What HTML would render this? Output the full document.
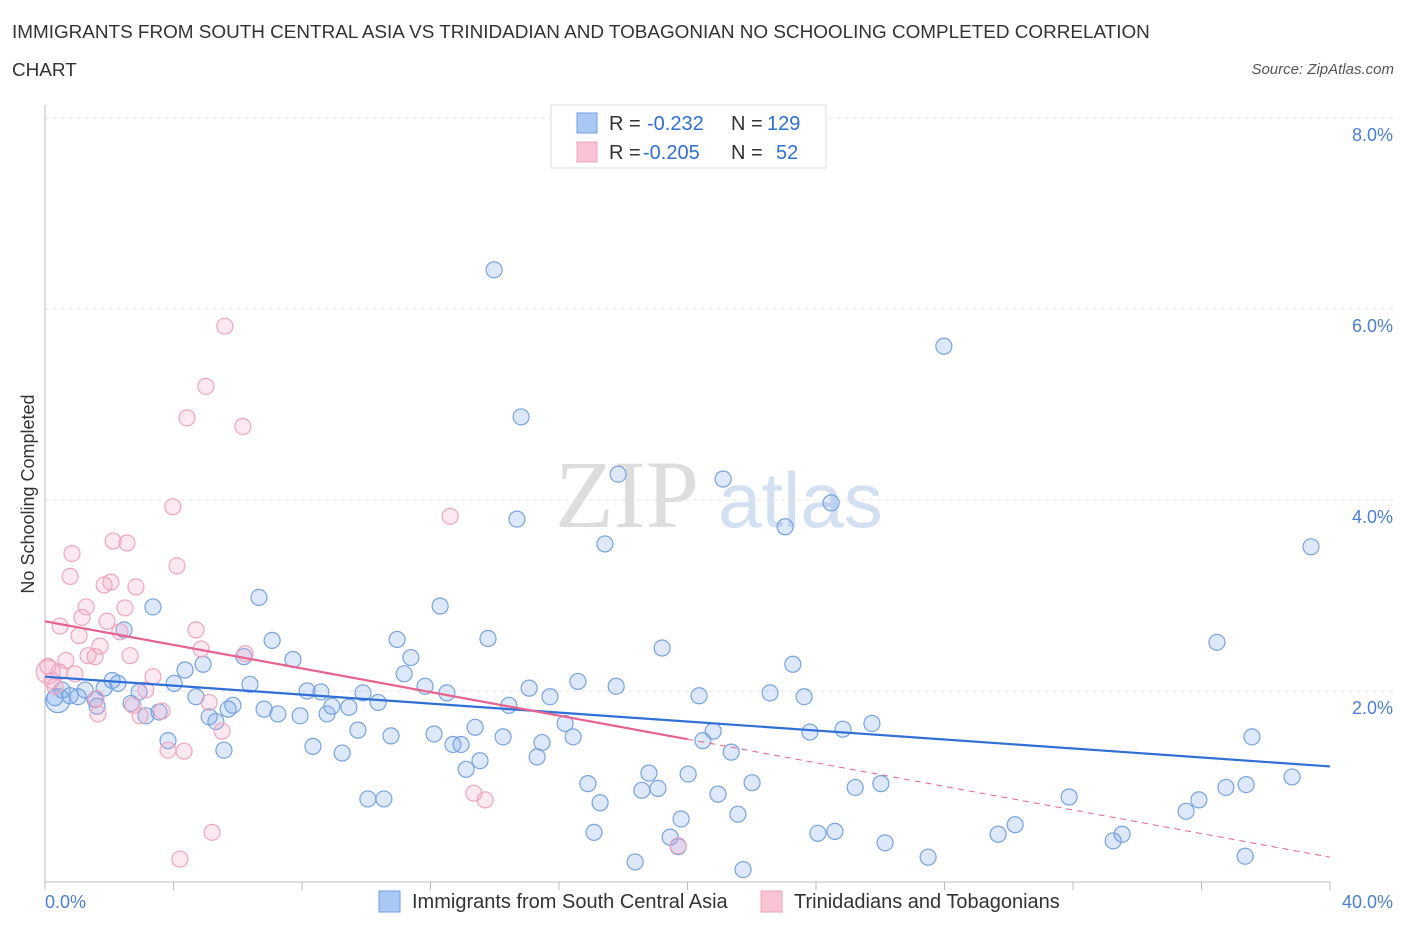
<!DOCTYPE html>
<html><head><meta charset="utf-8">
<style>
body{margin:0;background:#fff;font-family:"Liberation Sans",sans-serif;}
#wrap{position:relative;width:1406px;height:930px;overflow:hidden;}
.t{position:absolute;white-space:nowrap;}
</style></head>
<body>
<div id="wrap">
<div class="t" style="left:12px;top:14px;font-size:18.9px;color:#333;line-height:38px;">IMMIGRANTS FROM SOUTH CENTRAL ASIA VS TRINIDADIAN AND TOBAGONIAN NO SCHOOLING COMPLETED CORRELATION<br>CHART</div>
<div class="t" style="right:12px;top:61px;font-size:15px;font-style:italic;color:#555;">Source: ZipAtlas.com</div>
<svg id="svg" width="1406" height="930" style="position:absolute;left:0;top:0"></svg>
</div>
<script>
const xTicks=[0,4,8,12,16,20,24,28,32,36,40];
const yTicks=[2,4,6,8];
const yTickLabels=["2.0%","4.0%","6.0%","8.0%"];
const blueX=[13.98,27.98,14.82,17.84,21.11,24.47,14.69,23.04,17.43,39.41,6.66,3.36,12.30,2.46,7.07,10.96,13.79,36.48,19.21,6.19,7.72,23.28,4.36,4.92,11.18,11.39,16.59,4.02,17.78,15.07,11.83,2.09,2.27,6.38,20.36,22.57,23.63,15.72,8.16,8.59,12.51,9.90,4.70,1.84,1.25,0.53,0.78,0.31,1.03,1.56,2.93,2.68,1.62,10.37,5.85,8.93,9.46,14.44,6.82,3.14,3.55,5.70,5.11,5.32,7.25,7.94,8.78,16.19,20.80,13.39,9.74,10.77,12.11,14.26,16.44,23.81,24.84,25.74,37.57,20.48,3.83,5.57,8.34,9.25,12.70,12.95,15.47,15.32,21.36,13.54,13.11,18.80,20.02,16.90,18.58,19.08,22.01,20.95,25.22,26.02,36.76,37.39,38.82,31.88,35.92,10.05,10.55,17.28,35.52,21.57,19.80,30.20,17.09,24.06,24.59,33.53,19.46,33.25,26.15,29.67,19.71,27.49,18.37,37.36,21.73,0.4];
const blueY=[6.41,5.61,4.87,4.27,4.22,3.97,3.80,3.72,3.54,3.51,2.98,2.88,2.89,2.64,2.53,2.54,2.55,2.51,2.45,2.36,2.33,2.28,2.22,2.28,2.18,2.35,2.10,2.08,2.05,2.03,2.05,2.11,2.08,2.07,1.95,1.98,1.94,1.94,2.00,1.99,1.98,1.98,1.94,2.03,2.01,2.01,1.95,1.93,1.94,1.91,1.99,1.87,1.84,1.88,1.85,1.84,1.83,1.85,1.81,1.74,1.78,1.81,1.73,1.68,1.76,1.74,1.76,1.66,1.58,1.62,1.59,1.53,1.55,1.52,1.52,1.57,1.60,1.66,1.52,1.48,1.48,1.38,1.42,1.35,1.44,1.44,1.46,1.31,1.36,1.27,1.18,1.14,1.13,1.03,0.96,0.98,1.04,0.92,0.99,1.03,0.99,1.02,1.10,0.89,0.86,0.87,0.87,0.83,0.74,0.71,0.66,0.60,0.52,0.51,0.53,0.50,0.47,0.43,0.41,0.50,0.37,0.26,0.21,0.27,0.13,1.9];
const pinkX=[5.60,5.01,4.42,6.16,3.98,12.61,0.84,2.12,2.55,0.78,4.11,2.05,1.84,2.83,1.28,2.49,1.15,0.47,1.93,1.06,2.33,4.70,1.71,1.34,1.56,2.65,4.86,6.23,0.65,0.09,0.44,0.93,3.36,0.31,3.14,1.59,2.74,3.64,1.65,2.96,5.11,5.51,3.83,4.33,13.35,13.70,5.20,4.20,19.71,0.22,0.1];
const pinkY=[5.82,5.19,4.86,4.77,3.93,3.83,3.44,3.57,3.55,3.20,3.31,3.14,3.11,3.09,2.88,2.87,2.77,2.68,2.73,2.58,2.62,2.64,2.47,2.37,2.36,2.37,2.44,2.39,2.32,2.26,2.20,2.18,2.15,2.05,2.01,1.92,1.85,1.79,1.76,1.74,1.88,1.58,1.38,1.37,0.93,0.86,0.52,0.24,0.38,2.11,2.2];
const blueTrend=[2.15,1.21];
const pinkTrend=[2.73,0.26];
const x0=45,x1=1330,yb=882,yt=118;
const X=v=>x0+(v/40)*(x1-x0);
const Y=v=>yb-(v/8)*(yb-yt);
const svg=document.getElementById('svg');
const NS='http://www.w3.org/2000/svg';
function mk(tag,attrs){const e=document.createElementNS(NS,tag);for(const k in attrs)e.setAttribute(k,attrs[k]);svg.appendChild(e);return e;}
let wm=mk('text',{x:555,y:527,'font-size':96,'font-family':'Liberation Serif',fill:'#ddd'});wm.textContent='ZIP';


let wm2=mk('text',{x:718,y:527,'font-size':78,'font-family':'Liberation Sans',fill:'#d3e0f2'});wm2.textContent='atlas';


yTicks.forEach((v,i)=>{
 let g=mk('line',{x1:x0,x2:x1+65,y1:Y(v),y2:Y(v),stroke:'#e4e4e4','stroke-dasharray':'4,4'});
 
 
 let t=mk('text',{x:1393,y:Y(v)+23,'text-anchor':'end','font-size':18,fill:'#4a7fd6'});t.textContent=yTickLabels[i];
 
 
});
let ax=mk('line',{x1:x0,x2:x0,y1:105,y2:yb,stroke:'#bbb'});


let bx=mk('line',{x1:x0,x2:x1,y1:yb,y2:yb,stroke:'#bbb'});


xTicks.forEach(v=>{let l=mk('line',{x1:X(v),x2:X(v),y1:yb,y2:yb+8,stroke:'#bbb'});
 
 });
let xl=mk('text',{x:45,y:908,'font-size':18,fill:'#4a7fd6'});xl.textContent='0.0%';


let xr=mk('text',{x:1393,y:908,'text-anchor':'end','font-size':18,fill:'#4a7fd6'});xr.textContent='40.0%';


let yl=mk('text',{x:34,y:494,'font-size':18,fill:'#333','text-anchor':'middle',transform:'rotate(-90 34 494)'});yl.textContent='No Schooling Completed';


blueX.forEach((v,i)=>{let c=mk('circle',{cx:X(v),cy:Y(blueY[i]),r:(i==blueX.length-1?12:8),fill:'rgba(120,165,235,0.25)',stroke:'#77a3e2','stroke-width':1.2});
 
 });
pinkX.forEach((v,i)=>{let c=mk('circle',{cx:X(v),cy:Y(pinkY[i]),r:(i==pinkX.length-1?12:8),fill:'rgba(245,165,195,0.25)',stroke:'#efa6bd','stroke-width':1.2});
 
 });
let bt=mk('line',{x1:X(0),y1:Y(blueTrend[0]),x2:X(40),y2:Y(blueTrend[1]),stroke:'#2f6fd6','stroke-width':2.2});


const pm=(pinkTrend[0]+pinkTrend[1])/2;
let pt=mk('line',{x1:X(0),y1:Y(pinkTrend[0]),x2:X(20),y2:Y(pm),stroke:'#e8628f','stroke-width':2.2});


let pd=mk('line',{x1:X(20),y1:Y(pm),x2:X(40),y2:Y(pinkTrend[1]),stroke:'#e8628f','stroke-width':1,'stroke-dasharray':'6,5'});


let lb=mk('rect',{x:551,y:105,width:275,height:63,fill:'#fff',stroke:'#ddd'});


[['#aac8f3','#6f9ee0','-0.232',647,'129',767,123],['#f8c3d3','#eea0b8','-0.205',643,'52',776,152]].forEach(r=>{
 let s=mk('rect',{x:577,y:r[6]-10,width:20,height:20,fill:r[0],stroke:r[1]});
 
 
 let t=mk('text',{y:r[6]+7,'font-size':20,fill:'#333'});
 t.innerHTML='<tspan x="609">R =</tspan><tspan x="'+r[3]+'" fill="#2f6fd6">'+r[2]+'</tspan><tspan x="731">N =</tspan><tspan x="'+r[5]+'" fill="#2f6fd6">'+r[4]+'</tspan>';
 
 
});
[[379,'#aac8f3','#6f9ee0','Immigrants from South Central Asia'],[761,'#f8c3d3','#eea0b8','Trinidadians and Tobagonians']].forEach(r=>{
 let s=mk('rect',{x:r[0],y:891,width:21,height:21,fill:r[1],stroke:r[2]});
 
 
 let t=mk('text',{x:r[0]+33,y:908,'font-size':20,fill:'#333'});t.textContent=r[3];
 
 
});
</script>
</body></html>
